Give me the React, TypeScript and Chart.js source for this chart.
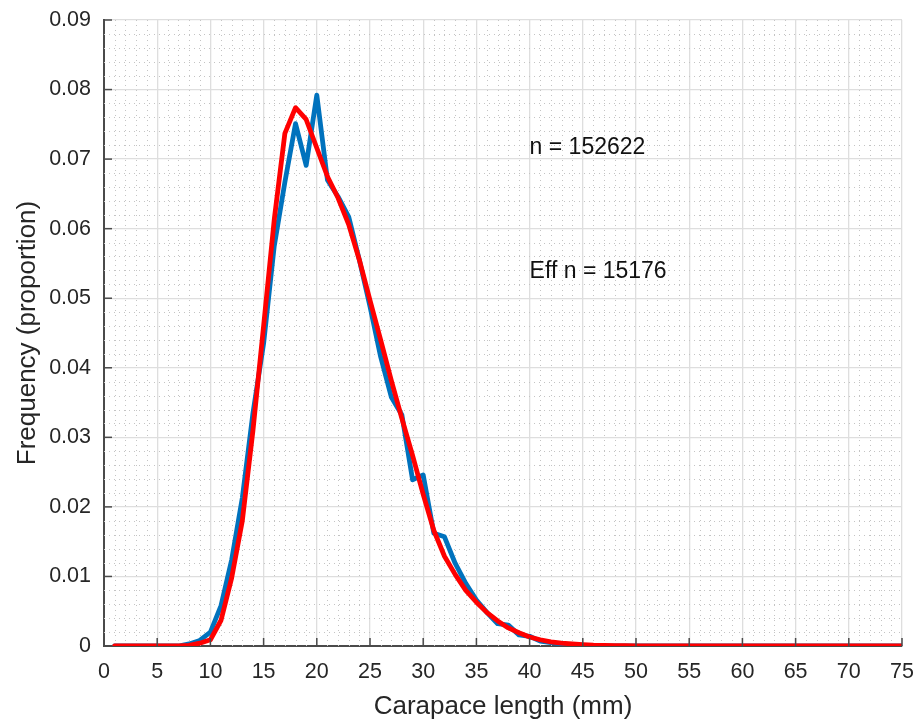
import React, { useEffect, useRef } from "react";
import { Chart, registerables } from "chart.js";

Chart.register(...registerables);

// ---- data ----
const lengthsMm = [
  1, 2, 3, 4, 5, 6, 7, 8, 9, 10, 11, 12, 13, 14, 15, 16, 17, 18, 19, 20, 21, 22, 23, 24, 25,
  26, 27, 28, 29, 30, 31, 32, 33, 34, 35, 36, 37, 38, 39, 40, 41, 42, 43, 44, 45, 46, 47, 48, 49, 50,
  51, 52, 53, 54, 55, 56, 57, 58, 59, 60, 61, 62, 63, 64, 65, 66, 67, 68, 69, 70, 71, 72, 73, 74, 75,
];

const observedFreq = [
  0, 0, 0, 0, 0, 0, 0, 0.0003, 0.0008, 0.002, 0.0058, 0.0124, 0.0213, 0.0335, 0.0435, 0.0575, 0.0667, 0.0751, 0.0691, 0.0792,
  0.067, 0.0646, 0.0617, 0.0555, 0.0488, 0.0416, 0.0358, 0.0332, 0.0239, 0.0246, 0.0162, 0.0157, 0.0119, 0.009, 0.0066,
  0.0048, 0.0032, 0.003, 0.0016, 0.0014, 0.0007, 0.0005, 0.0003, 0.0002, 0.0001, 0.0001, 0, 0, 0, 0,
  0, 0, 0, 0, 0, 0, 0, 0, 0, 0, 0, 0, 0, 0, 0, 0, 0, 0, 0, 0, 0, 0, 0, 0, 0,
];

const fittedFreq = [
  0, 0, 0, 0, 0, 0, 0, 0.0001, 0.0004, 0.0009, 0.0037, 0.0098, 0.018, 0.031, 0.046, 0.0613, 0.0737, 0.0774, 0.0757, 0.0716,
  0.0675, 0.0644, 0.0606, 0.0555, 0.0497, 0.044, 0.0382, 0.0327, 0.0274, 0.0218, 0.0166, 0.0129, 0.0103, 0.008, 0.0063,
  0.0048, 0.0036, 0.0026, 0.0019, 0.0013, 0.0009, 0.0006, 0.0004, 0.0003, 0.0002, 0.00013, 0.0001, 0.00006, 0.00004, 0.00002,
  0, 0, 0, 0, 0, 0, 0, 0, 0, 0, 0, 0, 0, 0, 0, 0, 0, 0, 0, 0, 0, 0, 0, 0, 0,
];

const xRange = [0, 75];
const yRange = [0, 0.09];
const xMajorStep = 5;
const xMinorStep = 1;
const yMajorStep = 0.01;
const yMinorStep = 0.002;

const annotationTexts = ["n = 152622", "Eff n = 15176"];
const annotationX = 40;
const annotationY = [0.0716, 0.0538];

const xTitle = "Carapace length (mm)";
const yTitle = "Frequency (proportion)";

// ---- styles ----
const FONT = "'Liberation Sans', Arial, Helvetica, sans-serif";
const TEXT = "#262626";
const AXIS = "#4a4a4a";
const GRID = "#dedede";
const MINOR = "#c4c4c4";

const matlabGridPlugin = {
  id: "matlabGrid",
  beforeDatasetsDraw(chart: any) {
    const { ctx, chartArea, scales } = chart;
    const xs = scales.x;
    const ys = scales.y;
    ctx.save();
    ctx.strokeStyle = MINOR;
    ctx.lineWidth = 1;
    ctx.setLineDash([1, 4]);
    const nx = Math.round((xRange[1] - xRange[0]) / xMinorStep);
    for (let i = 1; i < nx; i++) {
      const v = xRange[0] + i * xMinorStep;
      if (Math.abs(v / xMajorStep - Math.round(v / xMajorStep)) < 1e-6) continue;
      const px = Math.round(xs.getPixelForValue(v)) + 0.5;
      ctx.beginPath();
      ctx.moveTo(px, chartArea.top);
      ctx.lineTo(px, chartArea.bottom);
      ctx.stroke();
    }
    const ny = Math.round((yRange[1] - yRange[0]) / yMinorStep);
    for (let i = 1; i < ny; i++) {
      const v = yRange[0] + i * yMinorStep;
      if (Math.abs(v / yMajorStep - Math.round(v / yMajorStep)) < 1e-6) continue;
      const py = Math.round(ys.getPixelForValue(v)) + 0.5;
      ctx.beginPath();
      ctx.moveTo(chartArea.left, py);
      ctx.lineTo(chartArea.right, py);
      ctx.stroke();
    }
    ctx.restore();
  },
  afterDatasetsDraw(chart: any) {
    const { ctx, chartArea, scales } = chart;
    const xs = scales.x;
    const ys = scales.y;
    ctx.save();
    ctx.strokeStyle = AXIS;
    ctx.lineWidth = 1.5;
    ctx.setLineDash([]);
    const nx = Math.round((xRange[1] - xRange[0]) / xMajorStep);
    for (let i = 1; i <= nx; i++) {
      const px = xs.getPixelForValue(xRange[0] + i * xMajorStep);
      ctx.beginPath();
      ctx.moveTo(px, chartArea.bottom);
      ctx.lineTo(px, chartArea.bottom - 8);
      ctx.stroke();
    }
    const ny = Math.round((yRange[1] - yRange[0]) / yMajorStep);
    for (let i = 1; i <= ny; i++) {
      const py = ys.getPixelForValue(yRange[0] + i * yMajorStep);
      ctx.beginPath();
      ctx.moveTo(chartArea.left, py);
      ctx.lineTo(chartArea.left + 8, py);
      ctx.stroke();
    }
    ctx.fillStyle = "#111";
    ctx.font = `23px ${FONT}`;
    ctx.textAlign = "left";
    ctx.textBaseline = "middle";
    annotationTexts.forEach((t, i) => {
      ctx.fillText(t, xs.getPixelForValue(annotationX), ys.getPixelForValue(annotationY[i]));
    });
    ctx.restore();
  },
};

export default function App() {
  const canvasRef = useRef<HTMLCanvasElement | null>(null);

  useEffect(() => {
    const canvas = canvasRef.current;
    if (!canvas) return;
    const chart = new Chart(canvas, {
      type: "line",
      data: {
        datasets: [
          {
            label: "Fitted",
            data: lengthsMm.map((x, i) => ({ x, y: fittedFreq[i] })),
            borderColor: "#ff0000",
            borderWidth: 4.8,
            pointRadius: 0,
            tension: 0,
            borderJoinStyle: "round",
            borderCapStyle: "round",
            order: 0,
          },
          {
            label: "Observed",
            data: lengthsMm.map((x, i) => ({ x, y: observedFreq[i] })),
            borderColor: "#0072bd",
            borderWidth: 4.8,
            pointRadius: 0,
            tension: 0,
            borderJoinStyle: "round",
            borderCapStyle: "round",
            order: 1,
          },
        ],
      },
      options: {
        animation: false,
        responsive: false,
        devicePixelRatio: 1,
        layout: { padding: { top: 20, right: 16, left: 0, bottom: 0 } },
        plugins: {
          legend: { display: false },
          tooltip: { enabled: false },
        },
        scales: {
          x: {
            type: "linear",
            min: xRange[0],
            max: xRange[1],
            ticks: {
              stepSize: xMajorStep,
              color: TEXT,
              font: { family: FONT, size: 21.5 },
              padding: 13,
              maxRotation: 0,
            },
            grid: { color: GRID, lineWidth: 1.3, drawTicks: false },
            border: { display: true, color: AXIS, width: 2 },
            title: {
              display: true,
              text: xTitle,
              color: TEXT,
              font: { family: FONT, size: 26 },
              padding: { top: 0, bottom: 4 },
            },
            afterFit: (s: any) => {
              s.height = 80;
              s.paddingLeft = 0;
              s.paddingRight = 0;
            },
          },
          y: {
            type: "linear",
            min: yRange[0],
            max: yRange[1],
            ticks: {
              stepSize: yMajorStep,
              color: TEXT,
              font: { family: FONT, size: 21.5 },
              padding: 13,
              callback: (v: any) => (v === 0 ? "0" : Number(v).toFixed(2)),
            },
            grid: { color: GRID, lineWidth: 1.3, drawTicks: false },
            border: { display: true, color: AXIS, width: 2 },
            title: {
              display: true,
              text: yTitle,
              color: TEXT,
              font: { family: FONT, size: 26 },
              padding: { top: 12, bottom: 0 },
            },
            afterFit: (s: any) => {
              s.width = 104;
              s.paddingTop = 0;
              s.paddingBottom = 0;
            },
          },
        },
      },
      plugins: [matlabGridPlugin],
    } as any);
    return () => chart.destroy();
  }, []);

  return (
    <div style={{ position: "fixed", left: 0, top: 0, width: 918, height: 726, background: "#fff" }}>
      <canvas ref={canvasRef} width={918} height={726} style={{ display: "block", width: 918, height: 726 }} />
    </div>
  );
}
